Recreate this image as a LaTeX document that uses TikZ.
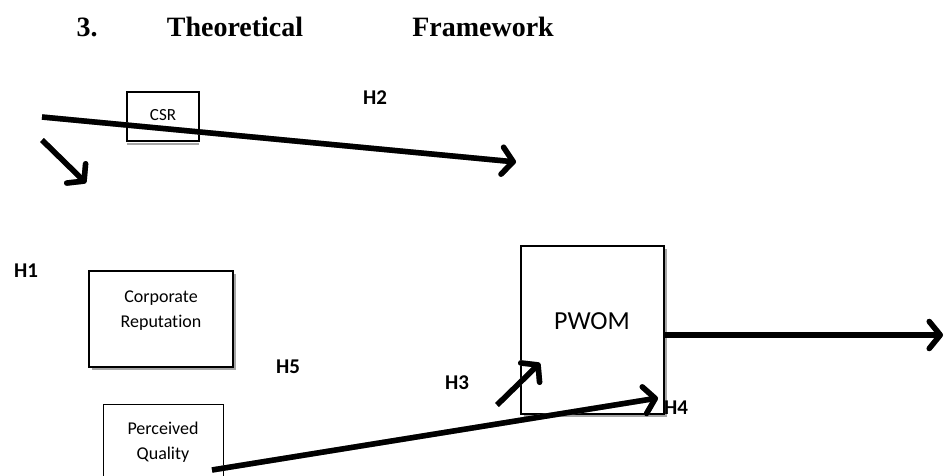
\documentclass[tikz,border=0pt]{standalone}
\usepackage{fontspec}
\setmainfont{Carlito}[Ligatures=NoCommon]
\newfontfamily\titlefont{Liberation Serif}
\usetikzlibrary{arrows.meta}
\tikzset{
  box/.style={draw=black, line width=1.3pt, fill=white, inner sep=0pt},
  hlabel/.style={font=\fontsize{21}{23}\selectfont\bfseries, inner sep=0pt},
  ttl/.style={font=\titlefont\fontsize{28}{30}\selectfont\bfseries, inner sep=0pt, anchor=base},
  bigarrow/.style={line width=5.5pt, -{Straight Barb[length=11pt,width=27pt,line cap=round,line join=round]}},
  shade/.style={draw=black!40, shift={(1.8pt,-2.8pt)}},
}
\newcommand{\shadowarrow}[2]{%
  \draw[bigarrow, shade] (#1) -- (#2);
  \draw[bigarrow] (#1) -- (#2);
}
\begin{document}
\begin{tikzpicture}[x=1pt,y=-1pt]
\useasboundingbox (0,0) rectangle (946,475);

% heading
\node[ttl] (tnum) at (87,36) {3.};
\node[ttl] (tword1) at (235,36) {Theoretical};
\node[ttl] (tword2) at (483,36) {Framework};

% box shadows
\fill[black!35] (92,274) rectangle (236,370);
\fill[black!35] (524,249) rectangle (667,417);
\draw[black!35, line width=1.3pt] (127,95) -- (199,95);
\draw[black!35, line width=1.3pt] (127,144) -- (199,144);

% construct boxes
\node[box, minimum width=72pt, minimum height=49pt] (csr) at (163,116.5) {};
\node[font=\fontsize{17}{19}\selectfont] (csrt) at (163,115) {CSR};

\node[box, minimum width=144pt, minimum height=96pt] (rep) at (161,319) {};
\node[font=\fontsize{18}{25}\selectfont, align=center, anchor=north] (rept) at (161,287) {Corporate\\Reputation};

\node[box, minimum width=120pt, minimum height=100pt, anchor=north west] (pq) at (103,404) {};
\node[font=\fontsize{18}{25}\selectfont, align=center, anchor=north] (pqt) at (163,418) {Perceived\\Quality};

\node[box, minimum width=143pt, minimum height=168pt] (pwom) at (592.5,330) {};
\node[font=\fontsize{26}{30}\selectfont] (pwomt) at (592,321) {PWOM};

% hypothesis labels
\node[hlabel] (h1) at (26,271) {H1};
\node[hlabel] (h2) at (375,98) {H2};
\node[hlabel] (h3) at (457,383) {H3};
\node[hlabel] (h4) at (676,408) {H4};
\node[hlabel] (h5) at (288,367) {H5};

% arrow end points
\coordinate (a1) at (42,117);
\coordinate (a2) at (516,162);
\coordinate (b1) at (42,140);
\coordinate (b2) at (86,183);
\coordinate (c1) at (497,405);
\coordinate (c2) at (540,363);
\coordinate (d1) at (212,470);
\coordinate (d2) at (658,398);
\coordinate (e1) at (pwom.east |- 0,335);
\coordinate (e2) at (943,335);

% relationships
\shadowarrow{a1}{a2}
\shadowarrow{b1}{b2}
\shadowarrow{c1}{c2}
\shadowarrow{d1}{d2}
\shadowarrow{e1}{e2}
\end{tikzpicture}
\end{document}
